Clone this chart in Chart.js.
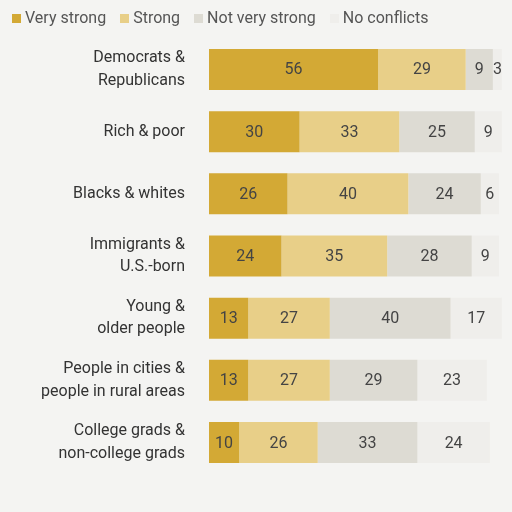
<!DOCTYPE html>
<html>
<head>
<script src="https://cdn.jsdelivr.net/npm/chart.js@4"></script>
<style>
  body { margin: 0; background: #f4f4f2; font-family: Roboto, sans-serif; }
  #wrap { position: relative; width: 512px; height: 512px; }
  #legend { position: absolute; top: 8px; left: 12px; font-size: 16px; color: #555; white-space: nowrap; }
  #legend span { margin-right: 14px; }
  #legend i { display: inline-block; width: 9px; height: 9px; margin-right: 4px; }
</style>
</head>
<body>
<div id="wrap">
  <div id="legend"></div>
  <canvas id="chart" width="512" height="512"></canvas>
</div>
<script>
const categories = [
  ['Democrats &', 'Republicans'],
  'Rich & poor',
  'Blacks & whites',
  ['Immigrants &', 'U.S.-born'],
  ['Young &', 'older people'],
  ['People in cities &', 'people in rural areas'],
  ['College grads &', 'non-college grads']
];
const seriesNames = ['Very strong', 'Strong', 'Not very strong', 'No conflicts'];
const veryStrong = [56, 30, 26, 24, 13, 13, 10];
const strong = [29, 33, 40, 35, 27, 27, 26];
const notVeryStrong = [9, 25, 24, 28, 40, 29, 33];
const noConflicts = [3, 9, 6, 9, 17, 23, 24];
const colors = ['#d3a935', '#e8cf88', '#dddbd3', '#efeeeb'];

const legendEl = document.getElementById('legend');
seriesNames.forEach((n, i) => {
  legendEl.innerHTML += `<span><i style="background:${colors[i]}"></i>${n}</span>`;
});

const barLabels = {
  id: 'barLabels',
  afterDatasetsDraw(chart) {
    const ctx = chart.ctx;
    ctx.save();
    ctx.font = '16px Roboto, sans-serif';
    ctx.fillStyle = '#444';
    ctx.textAlign = 'center';
    ctx.textBaseline = 'middle';
    chart.data.datasets.forEach((ds, di) => {
      chart.getDatasetMeta(di).data.forEach((bar, i) => {
        const x = (bar.x + bar.base) / 2;
        ctx.fillText(ds.data[i], x, bar.y + 1);
      });
    });
    ctx.restore();
  }
};

new Chart(document.getElementById('chart'), {
  type: 'bar',
  data: {
    labels: categories,
    datasets: [veryStrong, strong, notVeryStrong, noConflicts].map((d, i) => ({
      label: seriesNames[i],
      data: d,
      backgroundColor: colors[i],
      borderWidth: 0,
      categoryPercentage: 0.66,
      barPercentage: 1
    }))
  },
  options: {
    indexAxis: 'y',
    responsive: false,
    animation: false,
    layout: { padding: { top: 32, bottom: -19, right: 1 } },
    plugins: { legend: { display: false }, tooltip: { enabled: false } },
    scales: {
      x: { stacked: true, min: 0, max: 100, display: false },
      y: {
        stacked: true,
        grid: { display: false },
        border: { display: false },
        ticks: { color: '#333', font: { size: 16, family: 'Roboto', lineHeight: 1.4 }, padding: 16 },
        afterFit(s) { s.width = 209; }
      }
    }
  },
  plugins: [barLabels]
});
</script>
</body>
</html>
